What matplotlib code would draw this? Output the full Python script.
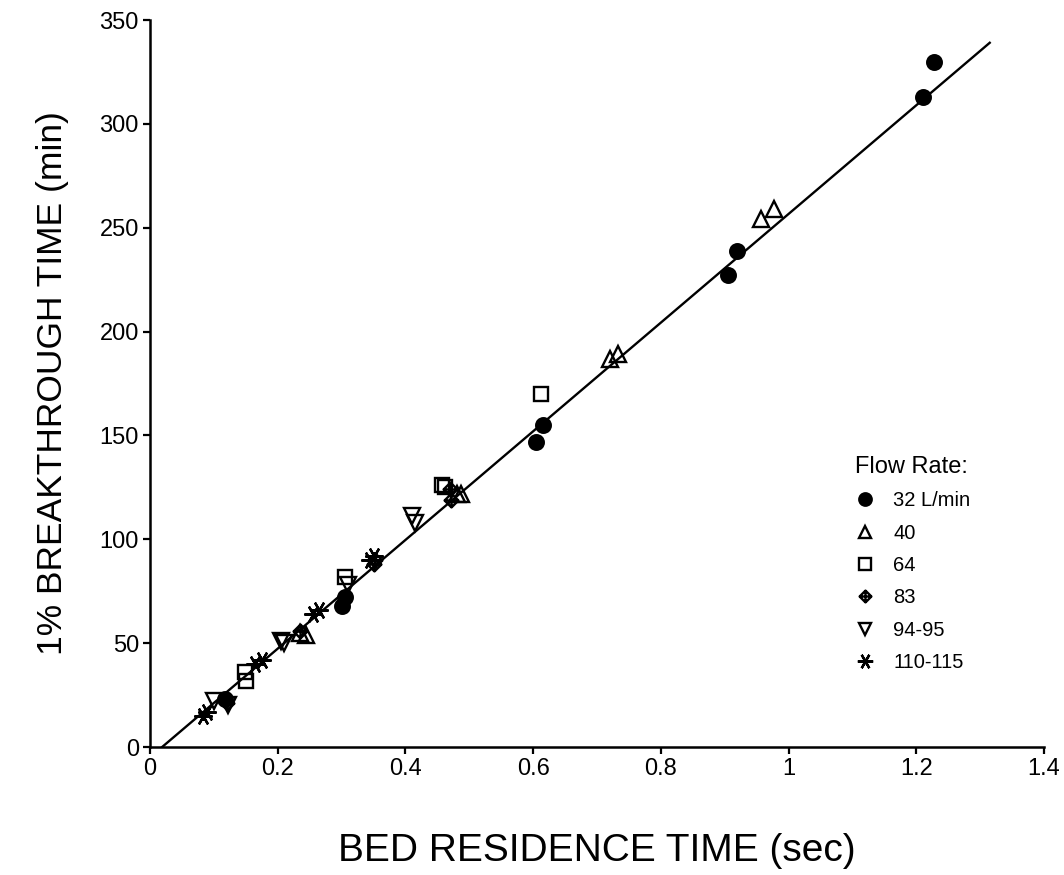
import matplotlib
matplotlib.use("Agg")
import matplotlib.pyplot as plt
from matplotlib.path import Path
import numpy as np

plt.rcParams['font.family'] = ['Liberation Sans', 'DejaVu Sans']

# Data
x_32 = [0.117, 0.300, 0.305, 0.605, 0.615, 0.905, 0.920, 1.210, 1.228]
y_32 = [23, 68, 72, 147, 155, 227, 239, 313, 330]

x_40 = [0.235, 0.245, 0.480, 0.487, 0.720, 0.733, 0.957, 0.977]
y_40 = [55, 54, 122, 122, 187, 189, 254, 259]

x_64 = [0.148, 0.150, 0.305, 0.458, 0.462, 0.612]
y_64 = [36, 32, 82, 126, 125, 170]

x_83 = [0.120, 0.235, 0.350, 0.353, 0.470, 0.472]
y_83 = [21, 56, 88, 90, 124, 119]

x_94 = [0.100, 0.122, 0.205, 0.210, 0.310, 0.410, 0.415]
y_94 = [22, 20, 51, 50, 78, 111, 108]

x_110 = [0.083, 0.090, 0.165, 0.175, 0.255, 0.265, 0.345, 0.350]
y_110 = [15, 17, 40, 42, 64, 66, 90, 92]

fit_slope = 261.6
fit_x0 = 0.019
fit_xmax = 1.315

legend_labels = ['32 L/min', '40', '64', '83', '94-95', '110-115']
x_ticks = [0, 0.2, 0.4, 0.6, 0.8, 1, 1.2, 1.4]
x_ticklabels = ['0', '0.2', '0.4', '0.6', '0.8', '1', '1.2', '1.4']
y_ticks = [0, 50, 100, 150, 200, 250, 300, 350]

# diamond with cross marker
M, L, C = Path.MOVETO, Path.LINETO, Path.CLOSEPOLY
diamond_cross = Path(
    [(0, 1), (1, 0), (0, -1), (-1, 0), (0, 1),
     (0, 1), (0, -1), (-1, 0), (1, 0)],
    [M, L, L, L, C, M, L, M, L])

fig = plt.figure(figsize=(10.64, 8.75), dpi=100)
ax = fig.add_axes([150/1064, 1-747/875, (1044-150)/1064, (747-20)/875])

lx = np.array([fit_x0, fit_xmax])
ax.plot(lx, fit_slope*(lx-fit_x0), color='black', lw=1.7, zorder=1)

kw = dict(linestyle='none', markeredgecolor='black', markeredgewidth=1.7, zorder=3)
h1, = ax.plot(x_32, y_32, marker='o', markersize=10.5, markerfacecolor='black', **kw)
h2, = ax.plot(x_40, y_40, marker='^', markersize=11, markerfacecolor='none', **kw)
h3, = ax.plot(x_64, y_64, marker='s', markersize=10, markerfacecolor='none', **kw)
h4, = ax.plot(x_83, y_83, marker=diamond_cross, markersize=10, markerfacecolor='none', **kw)
h5, = ax.plot(x_94, y_94, marker='v', markersize=11, markerfacecolor='none', **kw)
h6, = ax.plot(x_110, y_110, marker=(6, 2, 90), markersize=13, markerfacecolor='none', **kw)

ax.set_xlim(0, 1.4)
ax.set_ylim(0, 350)
ax.set_xticks(x_ticks)
ax.set_xticklabels(x_ticklabels)
ax.set_yticks(y_ticks)
for s in ['top', 'right']:
    ax.spines[s].set_visible(False)
for s in ['left', 'bottom']:
    ax.spines[s].set_linewidth(1.8)
ax.tick_params(direction='out', length=5, width=1.6, labelsize=17, pad=3)

ax.set_xlabel('BED RESIDENCE TIME (sec)', fontsize=28, labelpad=38)
ax.set_ylabel('1% BREAKTHROUGH TIME (min)', fontsize=25.5, labelpad=22)

leg = ax.legend([h1, h2, h3, h4, h5, h6], legend_labels, title='Flow Rate:',
                loc='upper left', bbox_to_anchor=(837/1064, 1-438/875),
                bbox_transform=fig.transFigure, frameon=False,
                fontsize=14.5, title_fontsize=17, handlelength=1.0,
                handletextpad=0.9, labelspacing=0.66, markerscale=0.85)
leg._legend_box.align = 'left'

fig.savefig('out.png', dpi=100)
